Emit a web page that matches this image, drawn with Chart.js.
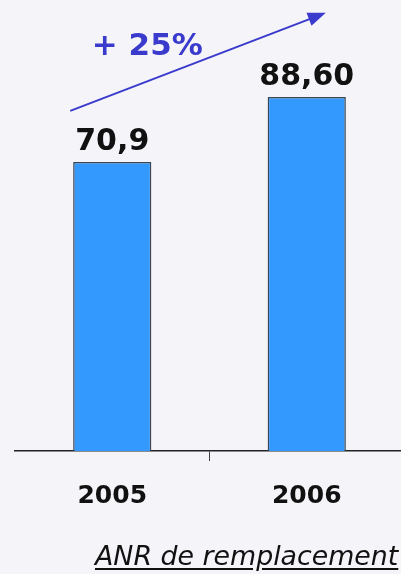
<!DOCTYPE html>
<html>
<head>
<meta charset="utf-8">
<script src="https://cdn.jsdelivr.net/npm/chart.js@4.4.1/dist/chart.umd.min.js"></script>
<style>
	html, body { margin: 0; padding: 0; background: #f4f4f9; overflow: hidden; }
	#wrap { position: relative; width: 404px; height: 574px; }
	#caption {
		position: absolute; left: 95px; top: 540px;
		font: italic 26.8px "DejaVu Sans", sans-serif; color: #111;
		text-decoration: underline; text-underline-offset: 3px; white-space: nowrap;
	}
</style>
</head>
<body>
<div id="wrap">
	<canvas id="graf" width="404" height="574"></canvas>
	<div id="caption">ANR de remplacement</div>
</div>
<script>
var annees = ['2005', '2006'];
var valeurs = [70.9, 88.6];
var etiquettes = ['70,9', '88,60'];
var hausse = '+ 25%';

var Y_MIN = -7.8;
var Y_MAX = 115;

// etiquettes de valeur au-dessus des barres + fleche de hausse
var etiquettesPlugin = {
	id: 'etiquettes',
	afterDatasetsDraw: function(chart) {
		var ctx = chart.ctx;
		var meta = chart.getDatasetMeta(0);
		var xs = chart.scales.x, ys = chart.scales.y;
		ctx.save();
		ctx.fillStyle = '#111';
		ctx.font = 'bold 30px "DejaVu Sans"';
		ctx.textAlign = 'center';
		ctx.textBaseline = 'bottom';
		for (var i = 0; i < meta.data.length; i++) {
			var bar = meta.data[i];
			ctx.fillText(etiquettes[i], bar.x, bar.y - 5);
		}

		// fleche
		var x1 = xs.getPixelForValue(-0.216), y1 = ys.getPixelForValue(84.8);
		var x2 = xs.getPixelForValue(1.098), y2 = ys.getPixelForValue(111.5);
		var ang = Math.atan2(y2 - y1, x2 - x1);
		ctx.strokeStyle = '#3a3acc';
		ctx.fillStyle = '#3a3acc';
		ctx.lineWidth = 2;
		ctx.beginPath();
		ctx.moveTo(x1, y1);
		ctx.lineTo(x2 - 14 * Math.cos(ang), y2 - 14 * Math.sin(ang));
		ctx.stroke();
		ctx.beginPath();
		ctx.moveTo(x2, y2);
		ctx.lineTo(x2 - 18 * Math.cos(ang) + 7 * Math.sin(ang), y2 - 18 * Math.sin(ang) - 7 * Math.cos(ang));
		ctx.lineTo(x2 - 18 * Math.cos(ang) - 7 * Math.sin(ang), y2 - 18 * Math.sin(ang) + 7 * Math.cos(ang));
		ctx.closePath();
		ctx.fill();

		ctx.font = 'bold 31px "DejaVu Sans"';
		ctx.textAlign = 'left';
		ctx.textBaseline = 'alphabetic';
		ctx.fillText(hausse, xs.getPixelForValue(-0.105), ys.getPixelForValue(100));
		ctx.restore();
	}
};

var ctx = document.getElementById('graf');

var barGraph = new Chart(ctx, {
	type: 'bar',
	data: {
		labels: annees,
		datasets: [{
			data: valeurs,
			base: Y_MIN,
			backgroundColor: '#3399ff',
			borderColor: '#3a4652',
			borderWidth: 1.5,
			categoryPercentage: 1,
			barPercentage: 0.402
		}]
	},
	options: {
		responsive: false,
		animation: false,
		layout: { padding: { left: 15, right: 0, top: 0, bottom: 43 } },
		plugins: {
			legend: { display: false },
			tooltip: { enabled: false }
		},
		scales: {
			x: {
				border: { display: true, color: '#222', width: 1.5 },
				grid: {
					drawOnChartArea: false,
					tickLength: 10,
					color: function(c) { return c.index === 1 ? '#444' : 'rgba(0,0,0,0)'; }
				},
				ticks: {
					color: '#111',
					padding: 20,
					font: { family: 'DejaVu Sans', weight: 'bold', size: 25 }
				}
			},
			y: {
				display: false,
				min: Y_MIN,
				max: Y_MAX
			}
		}
	},
	plugins: [etiquettesPlugin]
});
</script>
</body>
</html>
